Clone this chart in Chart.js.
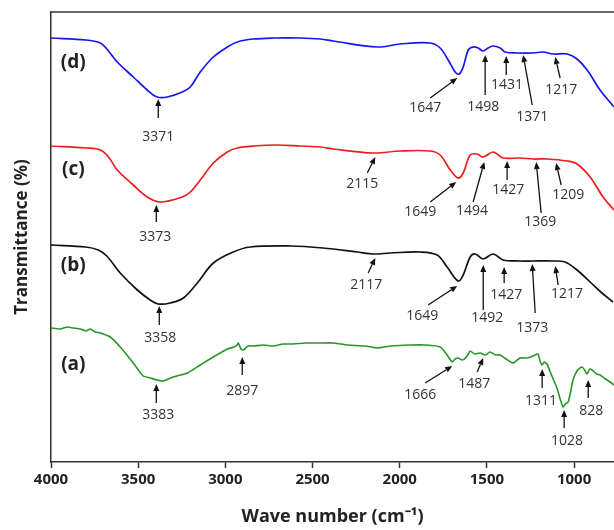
<!DOCTYPE html>
<html>
<head>
<meta charset="utf-8">
<script src="https://cdn.jsdelivr.net/npm/chart.js@4.4.0/dist/chart.umd.min.js"></script>
<style>
  body{margin:0;background:#fff;}
  #box{width:614px;height:530px;}
</style>
</head>
<body>
<div id="box"><canvas id="grafica"></canvas></div>
<script>
// wavenumber (cm-1) and transmittance (arbitrary offset units) for each spectrum
const waveD = [4000,3800,3717,3680,3620,3528,3448,3391,3333,3247,3201,3144,3069,2989,2932,2840,2725,2571,2456,2381,2129,1997,1825,1768,1722,1682,1659,1636,1607,1579,1550,1522,1493,1464,1424,1396,1327,1235,1178,1121,1040,983,925,851,771];
const transD = [424,422,419,413,400,385,372,365,365,370,375,390,405,415,420,423,424,424,423,421,415,418,419,414,402,390,388,395,412,415,414,411,414,416,414,410,409,409,410,408,408,403,392,372,355];

const waveC = [4000,3800,3717,3670,3620,3528,3448,3373,3247,3201,3144,3069,2989,2932,2840,2702,2571,2456,2381,2152,1997,1825,1768,1710,1665,1636,1596,1556,1522,1464,1407,1310,1235,1155,1040,983,908,834,771];
const transC = [316,314,312,305,292,277,265,260,265,270,282,299,310,314,316,317,316,315,313,309,311,311,307,292,284,289,307,308,305,310,304,304,303,303,301,298,285,265,252];

const waveB = [4000,3800,3729,3680,3603,3505,3431,3385,3316,3241,3161,3069,2955,2857,2628,2439,2244,2152,2054,1882,1785,1728,1665,1636,1596,1567,1522,1464,1407,1310,1235,1121,1052,983,908,840,777];
const transB = [217,215,212,206,189,172,162,158,159,164,179,199,210,215,216,214,210,208,209,210,207,195,181,187,205,208,203,208,202,201,201,201,200,192,180,169,160];

const waveA = [4000,3947,3907,3872,3832,3800,3775,3746,3717,3660,3603,3528,3471,3430,3391,3356,3299,3218,3144,3069,2989,2950,2932,2926,2910,2897,2870,2840,2780,2725,2670,2611,2540,2456,2381,2300,2200,2129,2050,1940,1850,1768,1728,1699,1682,1665,1640,1613,1596,1570,1539,1510,1482,1450,1424,1390,1350,1310,1269,1235,1207,1195,1184,1170,1155,1130,1098,1080,1063,1050,1034,1020,1006,980,954,940,925,910,897,870,851,820,794,771];
const transA = [134,133,135,134,133,131,133,130,129,125,115,99,86,84,82,81,85,89,97,105,113,115,117,119,113,112,116,116,117,116,118,118,119,119,119,117,116,114,116,117,117,115,107,100,103,104,102,106,111,108,109,107,110,107,107,103,99,104,104,106,108,101,97,100,98,87,74,63,55,58,60,70,82,92,95,92,88,93,92,88,87,83,80,77];

const xTicks = [4000,3500,3000,2500,2000,1500,1000];

// curve names: [text, wavenumber, transmittance]
const curveNames = [["(d)",3872,399],["(c)",3872,292],["(b)",3872,196],["(a)",3872,97]];

// peak notes: [text, tipW, tipT, tailW, tailT, labelW, labelT]
const peakNotes = [
  ["3371",3385,363,3385,344,3385,325],
  ["1647",1670,384,1825,364,1854,354],
  ["1498",1510,407,1510,367,1521,355],
  ["1431",1389,406,1389,387,1384,377],
  ["1371",1292,407,1240,357,1240,345],
  ["1217",1108,405,1080,384,1074,372],
  ["3373",3396,257,3396,240,3402,225],
  ["2115",2140,305,2186,289,2215,278],
  ["1649",1676,280,1825,260,1882,250],
  ["1494",1515,300,1579,260,1585,251],
  ["1427",1384,301,1384,282,1378,272],
  ["1369",1217,300,1189,249,1194,240],
  ["1209",1103,299,1074,277,1034,267],
  ["3358",3379,156,3379,137,3373,124],
  ["2117",2140,204,2181,189,2192,177],
  ["1649",1670,176,1837,157,1871,146],
  ["1492",1521,197,1521,152,1498,144],
  ["1427",1401,195,1401,179,1389,167],
  ["1373",1240,198,1223,149,1240,134],
  ["1217",1108,196,1091,177,1040,168],
  ["3383",3396,78,3396,59,3385,47],
  ["2897",2903,105,2903,87,2903,71],
  ["1666",1699,96,1854,79,1882,67],
  ["1487",1521,104,1556,90,1573,78],
  ["1311",1183,93,1183,74,1189,61],
  ["1028",1057,52,1057,34,1040,21],
  ["828",919,82,919,64,902,51]
];

function serie(w,t){ return w.map((v,i)=>({x:v,y:t[i]})); }

const notas = {
  id:'notas',
  afterDraw(chart){
    const c = chart.ctx, sx = chart.scales.x, sy = chart.scales.y, a = chart.chartArea;
    c.save();
    // top frame line
    c.strokeStyle = '#333'; c.lineWidth = 1.5;
    c.beginPath(); c.moveTo(a.left, a.top); c.lineTo(a.right, a.top); c.stroke();

    c.fillStyle = '#222';
    c.font = 'bold 19px "Open Sans"';
    c.textAlign = 'center'; c.textBaseline = 'middle';
    curveNames.forEach(n=>{
      c.fillText(n[0], sx.getPixelForValue(n[1]), sy.getPixelForValue(n[2]));
    });

    c.font = '14px "Open Sans"';
    peakNotes.forEach(p=>{
      const x1 = sx.getPixelForValue(p[1]), y1 = sy.getPixelForValue(p[2]);
      const x0 = sx.getPixelForValue(p[3]), y0 = sy.getPixelForValue(p[4]);
      const ang = Math.atan2(y1-y0, x1-x0);
      const hl = 7, hw = 3;
      const bx = x1 - hl*Math.cos(ang), by = y1 - hl*Math.sin(ang);
      c.strokeStyle = '#111'; c.fillStyle = '#111'; c.lineWidth = 1.3;
      c.beginPath(); c.moveTo(x0,y0); c.lineTo(bx,by); c.stroke();
      c.beginPath();
      c.moveTo(x1,y1);
      c.lineTo(bx + hw*Math.sin(ang), by - hw*Math.cos(ang));
      c.lineTo(bx - hw*Math.sin(ang), by + hw*Math.cos(ang));
      c.closePath(); c.fill();
      c.fillStyle = '#333';
      c.fillText(p[0], sx.getPixelForValue(p[5]), sy.getPixelForValue(p[6]));
    });
    c.restore();
  }
};

window.onload = ()=>{
const ctx = document.getElementById('grafica').getContext('2d');
const myChart = new Chart(ctx, {
    type: 'line',
    data: {
        datasets: [
            {label:'(d)', data: serie(waveD,transD), borderColor:'#1515f0', borderWidth:1.7, pointRadius:0, tension:0.35},
            {label:'(c)', data: serie(waveC,transC), borderColor:'#ee1c1c', borderWidth:1.7, pointRadius:0, tension:0.35},
            {label:'(b)', data: serie(waveB,transB), borderColor:'#111111', borderWidth:1.7, pointRadius:0, tension:0.35},
            {label:'(a)', data: serie(waveA,transA), borderColor:'#2a952a', borderWidth:1.6, pointRadius:0, tension:0.2}
        ]
    },
    options: {
        responsive:true,
        maintainAspectRatio:false,
        animation:false,
        layout:{ padding:{ top:12, right:0, left:0, bottom:0 } },
        scales: {
            x: {
                type:'linear',
                reverse:true,
                min:771, max:4000,
                afterBuildTicks: s => { s.ticks = xTicks.map(v=>({value:v})); },
                afterFit: s => { s.height = 68; },
                grid:{ drawOnChartArea:false, drawTicks:true, tickLength:6, tickColor:'#333', tickWidth:1.5 },
                border:{ display:true, color:'#333', width:1.5 },
                ticks:{ color:'#222', padding:3, maxRotation:0, callback: v => String(v),
                        font:{ family:'"Open Sans"', size:15, weight:'bold' } },
                title:{ display:true, text:'Wave number (cm⁻¹)', color:'#222', padding:{top:0,bottom:2},
                        font:{ family:'"Open Sans"', size:18, weight:'bold' } }
            },
            y: {
                min:0, max:450,
                afterFit: s => { s.width = 51; },
                grid:{ display:false },
                border:{ display:true, color:'#333', width:1.5 },
                ticks:{ display:false },
                title:{ display:true, text:'Transmittance (%)', color:'#222', padding:{top:12,bottom:0},
                        font:{ family:'"Open Sans"', size:17, weight:'bold' } }
            }
        },
        plugins:{
            legend:{ display:false },
            tooltip:{ enabled:false }
        }
    },
    plugins:[notas]
});
}
</script>
</body>
</html>
